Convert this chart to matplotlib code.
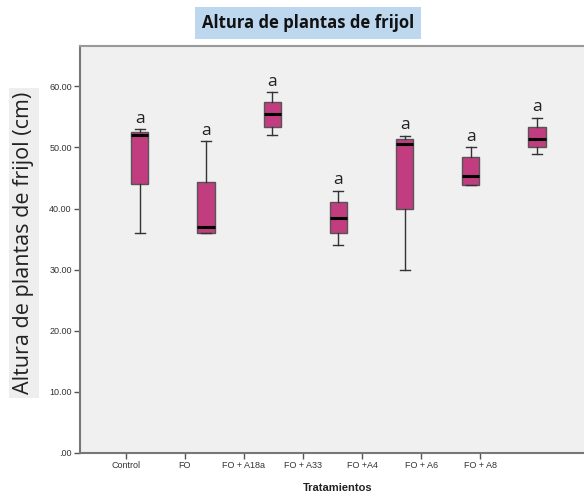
import matplotlib
matplotlib.use("Agg")
import matplotlib.pyplot as plt
import numpy as np

categories = ["Control", "FO", "FO + A18a", "FO + A33", "FO +A4", "FO + A6", "FO + A8"]
whisker_low = [36.0, 36.0, 52.0, 34.0, 30.0, 43.9, 49.0]
q1 = [44.0, 36.0, 53.4, 36.0, 40.0, 43.9, 50.0]
median = [52.0, 37.0, 55.5, 38.5, 50.5, 45.4, 51.4]
q3 = [52.6, 44.4, 57.4, 41.0, 51.4, 48.5, 53.4]
whisker_high = [53.0, 51.0, 59.0, 42.9, 51.9, 50.0, 54.9]
letters = ["a"] * 7
yticks = [0, 10, 20, 30, 40, 50, 60]
ytick_labels = [".00", "10.00", "20.00", "30.00", "40.00", "50.00", "60.00"]

fig = plt.figure(figsize=(5.84, 4.93), dpi=100)
ax = fig.add_axes([80/584, 40/493, 1.02 - 80/584, (453-46)/493])
ax.set_facecolor("#f0f0f0")

stats = []
for i in range(len(categories)):
    stats.append(dict(med=median[i], q1=q1[i], q3=q3[i],
                      whislo=whisker_low[i], whishi=whisker_high[i], fliers=[]))
pos = np.arange(1, len(categories) + 1)
ax.bxp(stats, positions=pos, widths=0.26, patch_artist=True, showfliers=False,
       boxprops=dict(facecolor="#c23c80", edgecolor="#555555", linewidth=1.0),
       medianprops=dict(color="black", linewidth=2.2),
       whiskerprops=dict(color="#333333", linewidth=1.0),
       capprops=dict(color="#333333", linewidth=1.0),
       capwidths=0.15)

for i, p in enumerate(pos):
    ax.text(p, whisker_high[i] + 0.4, letters[i], ha="center", va="bottom",
            fontsize=12.5, family="Open Sans", color="#222222")

ax.set_xlim(0.099, 1 + (590 - 139) / 65.5)
ax.set_ylim(0, 66.6)

# tick labels in reference sit on a tighter grid than the boxes
tick_pos = 1 - 14/65.5 + (pos - 1) * (58.5/65.5)
ax.set_xticks(tick_pos)
ax.set_xticklabels(categories, fontsize=6.5, family="Liberation Sans", color="#333333")
ax.set_yticks(yticks)
ax.set_yticklabels(ytick_labels, fontsize=6.5, family="Liberation Sans", color="#333333")
ax.tick_params(axis="both", length=4, width=1, color="#555555", pad=2)

ax.spines["right"].set_visible(False)
ax.spines["left"].set_color("#777777")
ax.spines["left"].set_linewidth(1.5)
ax.spines["bottom"].set_color("#777777")
ax.spines["bottom"].set_linewidth(1.5)
ax.spines["top"].set_color("#999999")
ax.spines["top"].set_linewidth(1.5)

ax.set_xlabel("Tratamientos", fontsize=8, fontweight="bold", family="Liberation Sans",
              labelpad=9, color="#222222")

fig.text(24/584, 1 - 243/493, "Altura de plantas de frijol (cm)", rotation=90,
         ha="center", va="center", fontsize=15.5, family="Open Sans", color="#222222",
         bbox=dict(facecolor="#eeeeee", edgecolor="none", pad=3))

fig.text(308/584, 1 - 23/493, "Altura de plantas de frijol", ha="center", va="center",
         fontsize=12, fontweight="bold", family="Open Sans", color="#111111",
         bbox=dict(facecolor="#bdd7ee", edgecolor="none", pad=5))

fig.savefig("out.png", dpi=100, facecolor="white")
